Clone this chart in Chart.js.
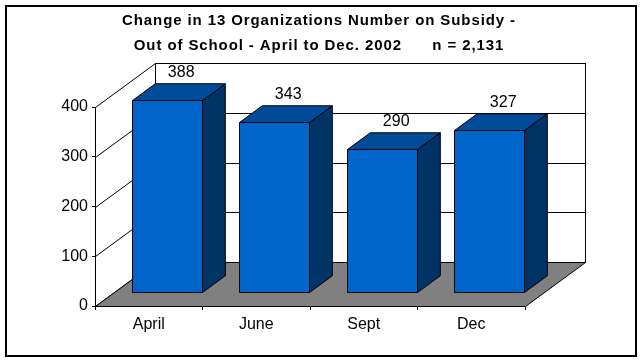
<!DOCTYPE html>
<html>
<head>
<meta charset="utf-8">
<script src="https://cdn.jsdelivr.net/npm/chart.js@4"></script>
<style>
  html, body { margin: 0; padding: 0; background: #fff; }
  #wrap { width: 644px; height: 363px; }
</style>
</head>
<body>
<div id="wrap"><canvas id="myChart" width="644" height="363"></canvas></div>
<script>
// data
const months = ["April", "June", "Sept", "Dec"];
const onSubsidy = [388, 343, 290, 327];
const yTicks = [0, 100, 200, 300, 400];
const titleLines = [
  "Change in 13 Organizations Number on Subsidy -",
  "Out of School - April to Dec. 2002      n = 2,131",
];

const FONT = "'Liberation Sans', Arial, sans-serif";
const DEPTH = { x: 60, y: -44 }; // back wall offset
const BAR_FRONT = 0.3;  // bars sit in the middle of the floor depth
const BAR_DEPTH = 0.38;

const poly = (ctx, pts, fill) => {
  ctx.beginPath();
  ctx.moveTo(pts[0][0], pts[0][1]);
  for (let i = 1; i < pts.length; i++) ctx.lineTo(pts[i][0], pts[i][1]);
  ctx.closePath();
  if (fill) {
    ctx.fillStyle = fill;
    ctx.fill();
  }
  ctx.stroke();
};

const threeD = {
  id: "threeD",
  beforeDraw(chart) {
    const ctx = chart.ctx;
    ctx.save();
    ctx.strokeStyle = "#000";
    ctx.lineWidth = 2;
    ctx.strokeRect(6, 6, 630, 350);
    // title, centred on the whole picture
    ctx.fillStyle = "#000";
    ctx.font = "bold 15px " + FONT;
    ctx.letterSpacing = "0.9px";
    ctx.textAlign = "center";
    ctx.textBaseline = "middle";
    titleLines.forEach((line, i) => ctx.fillText(line, 319, 21 + i * 25));
    ctx.restore();
  },
  beforeDatasetsDraw(chart) {
    const ctx = chart.ctx;
    const { left, right, top, bottom } = chart.chartArea;
    const y = chart.scales.y;
    const dx = DEPTH.x, dy = DEPTH.y;
    ctx.save();
    ctx.lineWidth = 1;
    ctx.strokeStyle = "#000";
    // back wall
    ctx.fillStyle = "#fff";
    ctx.fillRect(left + dx, top + dy, right - left, bottom - top);
    ctx.strokeRect(left + dx + 0.5, top + dy + 0.5, right - left, bottom - top);
    // gridlines on back wall + left wall
    yTicks.forEach((t) => {
      const py = Math.round(y.getPixelForValue(t)) + 0.5;
      ctx.beginPath();
      ctx.moveTo(left + 0.5, py);
      ctx.lineTo(left + dx + 0.5, py + dy);
      ctx.lineTo(right + dx + 0.5, py + dy);
      ctx.stroke();
    });
    // floor
    const b = Math.round(bottom) + 0.5;
    poly(ctx, [[left + 0.5, b], [right + 0.5, b], [right + dx + 0.5, b + dy], [left + dx + 0.5, b + dy]], "#808080");
    ctx.restore();
  },
  afterDatasetsDraw(chart) {
    const ctx = chart.ctx;
    const meta = chart.getDatasetMeta(0);
    const fx = DEPTH.x * BAR_FRONT, fy = DEPTH.y * BAR_FRONT;
    const bx = DEPTH.x * BAR_DEPTH, by = DEPTH.y * BAR_DEPTH;
    ctx.save();
    ctx.lineWidth = 1;
    ctx.strokeStyle = "#000";
    meta.data.forEach((bar, i) => {
      const l = Math.round(bar.x - bar.width / 2 + fx) + 0.5;
      const r = Math.round(bar.x + bar.width / 2 + fx) + 0.5;
      const t = Math.round(bar.y + fy) + 0.5;
      const btm = Math.round(bar.base + fy) + 0.5;
      // side
      poly(ctx, [[r, t], [r + bx, t + by], [r + bx, btm + by], [r, btm]], "#003366");
      // top
      poly(ctx, [[l, t], [r, t], [r + bx, t + by], [l + bx, t + by]], "#004C99");
      // front
      poly(ctx, [[l, t], [r, t], [r, btm], [l, btm]], "#0066CC");
      // value label
      ctx.fillStyle = "#000";
      ctx.font = "16px " + FONT;
      ctx.textAlign = "center";
      ctx.textBaseline = "middle";
      ctx.fillText(String(onSubsidy[i]), (l + r) / 2 + bx * 0.6, t + by - 11);
    });
    ctx.restore();
  },
};

new Chart(document.getElementById("myChart"), {
  type: "bar",
  data: {
    labels: months,
    datasets: [
      {
        data: onSubsidy,
        backgroundColor: "rgba(0,0,0,0)",
        borderWidth: 0,
        barPercentage: 0.65,
        categoryPercentage: 1,
      },
    ],
  },
  options: {
    responsive: false,
    animation: false,
    layout: { padding: { left: 5, right: 119, top: 107, bottom: 17 } },
    plugins: {
      legend: { display: false },
      tooltip: { enabled: false },
      title: { display: false },
    },
    scales: {
      x: {
        afterFit: (s) => { s.height = 40; },
        grid: { drawOnChartArea: false, color: "#000", tickLength: 4, offset: true },
        border: { color: "#000" },
        ticks: { color: "#000", font: { family: FONT, size: 16 }, padding: 5 },
      },
      y: {
        min: 0,
        max: 400,
        afterFit: (s) => { s.width = 90; },
        grid: { drawOnChartArea: false, color: "#000", tickLength: 3 },
        border: { color: "#000" },
        ticks: { stepSize: 100, color: "#000", font: { family: FONT, size: 16 }, padding: 4 },
      },
    },
  },
  plugins: [threeD],
});
</script>
</body>
</html>
